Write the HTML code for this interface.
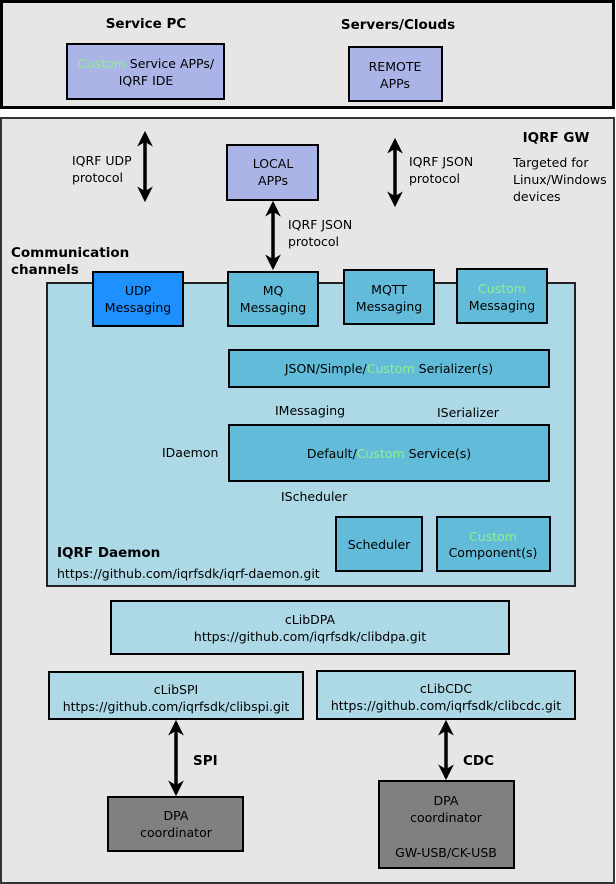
<!DOCTYPE html>
<html><head><meta charset="utf-8"><style>
html,body{margin:0;padding:0;background:#fff;}
svg{display:block;font-family:"DejaVu Sans","Liberation Sans",sans-serif;font-size:12.5px;}
</style></head><body>
<svg width="616" height="884" viewBox="0 0 616 884" xmlns="http://www.w3.org/2000/svg">
<defs>
<marker id="ah" viewBox="0 0 10 10" refX="8" refY="5" markerWidth="4.5" markerHeight="4.5" orient="auto-start-reverse">
<path d="M0,0 L10,5 L0,10 L3,5 z" fill="#000"/></marker>
</defs>
<rect x="1.5" y="1.5" width="612" height="106" fill="#e6e6e6" stroke="#000" stroke-width="3"/>
<rect x="1" y="118" width="613" height="765" fill="#e6e6e6" stroke="#333" stroke-width="2"/>

<rect x="67" y="44" width="157" height="55" fill="#aab4e6" stroke="#000" stroke-width="2"/>
<text x="146" y="68" text-anchor="middle"><tspan fill="#90ee90">Custom</tspan> Service APPs/</text>
<text x="146" y="85" text-anchor="middle">IQRF IDE</text>
<rect x="349" y="47" width="93" height="54" fill="#aab4e6" stroke="#000" stroke-width="2"/>
<text x="395" y="71" text-anchor="middle">REMOTE</text>
<text x="395" y="88" text-anchor="middle">APPs</text>

<rect x="227" y="145" width="91" height="55" fill="#aab4e6" stroke="#000" stroke-width="2"/>
<text x="273" y="168" text-anchor="middle">LOCAL</text>
<text x="273" y="185" text-anchor="middle">APPs</text>

<g stroke="#000" stroke-width="3.5" fill="none">
<line x1="145" y1="134" x2="145" y2="199" marker-start="url(#ah)" marker-end="url(#ah)"/>
<line x1="395" y1="141" x2="395" y2="204" marker-start="url(#ah)" marker-end="url(#ah)"/>
<line x1="273" y1="204" x2="273" y2="267" marker-start="url(#ah)" marker-end="url(#ah)"/>
<line x1="176" y1="723" x2="176" y2="793" marker-start="url(#ah)" marker-end="url(#ah)"/>
<line x1="446" y1="723" x2="446" y2="777" marker-start="url(#ah)" marker-end="url(#ah)"/>
</g>
<text x="72" y="165">IQRF UDP</text>
<text x="72" y="182">protocol</text>
<text x="409" y="166">IQRF JSON</text>
<text x="409" y="183">protocol</text>
<text x="288" y="229">IQRF JSON</text>
<text x="288" y="246">protocol</text>
<text x="513" y="167">Targeted for</text>
<text x="513" y="184">Linux/Windows</text>
<text x="513" y="201">devices</text>

<rect x="47" y="283" width="528" height="303" fill="#add8e6" stroke="#222" stroke-width="2"/>
<rect x="93" y="272" width="90" height="54" fill="#1e90ff" stroke="#000" stroke-width="2"/>
<text x="138" y="295" text-anchor="middle">UDP</text>
<text x="138" y="312" text-anchor="middle">Messaging</text>
<rect x="228" y="272" width="90" height="54" fill="#62bcd9" stroke="#000" stroke-width="2"/>
<text x="273" y="295" text-anchor="middle">MQ</text>
<text x="273" y="312" text-anchor="middle">Messaging</text>
<rect x="344" y="270" width="90" height="54" fill="#62bcd9" stroke="#000" stroke-width="2"/>
<text x="389" y="294" text-anchor="middle">MQTT</text>
<text x="389" y="311" text-anchor="middle">Messaging</text>
<rect x="457" y="269" width="90" height="54" fill="#62bcd9" stroke="#000" stroke-width="2"/>
<text x="502" y="293" text-anchor="middle" fill="#90ee90">Custom</text>
<text x="502" y="310" text-anchor="middle">Messaging</text>

<rect x="229" y="350" width="320" height="37" fill="#62bcd9" stroke="#000" stroke-width="2"/>
<text x="389" y="373" text-anchor="middle">JSON/Simple/<tspan fill="#90ee90">Custom</tspan>  Serializer(s)</text>
<text x="275" y="415">IMessaging</text>
<text x="437" y="417">ISerializer</text>
<text x="162" y="457">IDaemon</text>
<rect x="229" y="425" width="320" height="56" fill="#62bcd9" stroke="#000" stroke-width="2"/>
<text x="389" y="458" text-anchor="middle">Default/<tspan fill="#90ee90">Custom</tspan> Service(s)</text>
<text x="281" y="501">IScheduler</text>
<rect x="336" y="517" width="86" height="54" fill="#62bcd9" stroke="#000" stroke-width="2"/>
<text x="379" y="549" text-anchor="middle">Scheduler</text>
<rect x="437" y="517" width="113" height="54" fill="#62bcd9" stroke="#000" stroke-width="2"/>
<text x="493" y="541" text-anchor="middle" fill="#90ee90">Custom</text>
<text x="493" y="557" text-anchor="middle">Component(s)</text>
<text x="57" y="578">https://github.com/iqrfsdk/iqrf-daemon.git</text>

<rect x="111" y="601" width="398" height="53" fill="#add8e6" stroke="#000" stroke-width="2"/>
<text x="310" y="624" text-anchor="middle">cLibDPA</text>
<text x="310" y="641" text-anchor="middle">https://github.com/iqrfsdk/clibdpa.git</text>
<rect x="49" y="672" width="254" height="47" fill="#add8e6" stroke="#000" stroke-width="2"/>
<text x="176" y="694" text-anchor="middle">cLibSPI</text>
<text x="176" y="711" text-anchor="middle">https://github.com/iqrfsdk/clibspi.git</text>
<rect x="317" y="671" width="258" height="48" fill="#add8e6" stroke="#000" stroke-width="2"/>
<text x="446" y="693" text-anchor="middle">cLibCDC</text>
<text x="446" y="710" text-anchor="middle">https://github.com/iqrfsdk/clibcdc.git</text>

<rect x="108" y="797" width="135" height="54" fill="#808080" stroke="#000" stroke-width="2"/>
<text x="176" y="820" text-anchor="middle">DPA</text>
<text x="176" y="837" text-anchor="middle">coordinator</text>
<rect x="379" y="781" width="135" height="87" fill="#808080" stroke="#000" stroke-width="2"/>
<text x="446" y="805" text-anchor="middle">DPA</text>
<text x="446" y="822" text-anchor="middle">coordinator</text>
<text x="446" y="857" text-anchor="middle">GW-USB/CK-USB</text>

<g font-weight="bold" font-size="13.5">
<text x="146" y="28" text-anchor="middle">Service PC</text>
<text x="398" y="29" text-anchor="middle">Servers/Clouds</text>
<text x="556" y="142" text-anchor="middle">IQRF GW</text>
<text x="11" y="257">Communication</text>
<text x="11" y="274">channels</text>
<text x="57" y="557">IQRF Daemon</text>
<text x="193" y="765">SPI</text>
<text x="463" y="765">CDC</text>
</g>
</svg>
</body></html>
